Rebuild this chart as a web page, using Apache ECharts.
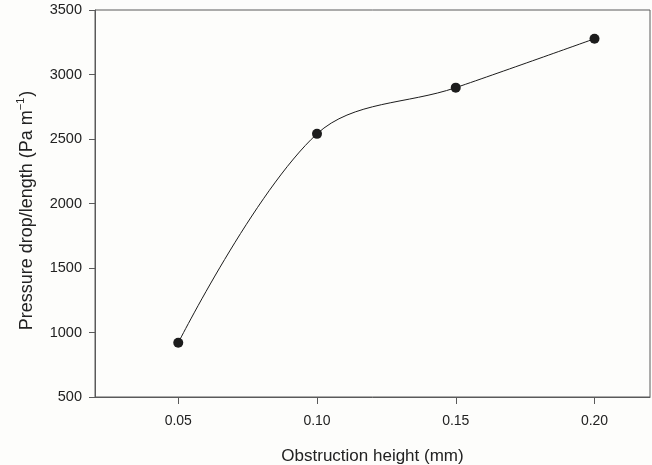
<!DOCTYPE html>
<html>
<head>
<meta charset="utf-8">
<script src="https://cdn.jsdelivr.net/npm/echarts@6/dist/echarts.min.js"></script>
<style>
html, body { margin: 0; padding: 0; background: #fdfdfb; }
#view { width: 652px; height: 465px; }
</style>
</head>
<body>
<div id="view"></div>
<script>
// obstruction height (mm) and pressure drop per length (Pa/m)
var heights = [0.05, 0.10, 0.15, 0.20];
var pressureDrop = [920, 2540, 2898, 3277];
var xTicks = ['0.05', '0.10', '0.15', '0.20'];

var myChart = echarts.init(document.getElementById('view'));
var option = {
    backgroundColor: '#fdfdfb',
    animation: false,
    textStyle: { fontFamily: 'Liberation Sans, Arial, sans-serif' },
    grid: {
        left: 95, right: 2, top: 10, bottom: 68,
        containLabel: false,
        outerBoundsMode: 'none',
        show: true,
        borderColor: '#5a5a5a',
        borderWidth: 1
    },
    xAxis: {
        type: 'value',
        min: 0.02, max: 0.22,
        interval: 0.05,
        name: 'Obstruction height (mm)',
        nameLocation: 'middle',
        nameGap: 51,
        nameTextStyle: { fontSize: 17, color: '#222' },
        axisLine: { lineStyle: { color: '#5a5a5a', width: 1 } },
        axisTick: { show: true, length: 7, lineStyle: { color: '#5a5a5a' },
            customValues: heights },
        axisLabel: { fontSize: 14, color: '#222', margin: 17,
            customValues: heights,
            formatter: function (v) {
                var i = heights.indexOf(Math.round(v * 100) / 100);
                return i >= 0 ? xTicks[i] : '';
            } },
        splitLine: { show: false }
    },
    yAxis: {
        type: 'value',
        min: 500, max: 3500,
        interval: 500,
        name: '{a|Pressure drop/length (Pa m}{s|−1}{a|)}',
        nameLocation: 'middle',
        nameGap: 58,
        nameTextStyle: {
            padding: [0, 14, 0, 0],
            rich: {
                a: { fontSize: 18, color: '#222', lineHeight: 20 },
                s: { fontSize: 11, color: '#222', lineHeight: 20, padding: [0, 1, 12, 0] }
            }
        },
        axisLine: { show: true, lineStyle: { color: '#5a5a5a', width: 1 } },
        axisTick: { show: true, length: 6, lineStyle: { color: '#5a5a5a' } },
        axisLabel: { fontSize: 14.5, color: '#222', margin: 13,
            formatter: function (v) { return String(v); } },
        splitLine: { show: false }
    },
    series: [{
        type: 'line',
        data: heights.map(function (h, i) { return [h, pressureDrop[i]]; }),
        smooth: 0.35,
        symbol: 'circle',
        symbolSize: 10,
        itemStyle: { color: '#1c1c1c' },
        lineStyle: { color: '#1c1c1c', width: 1 }
    }]
};
myChart.setOption(option);
</script>
</body>
</html>
